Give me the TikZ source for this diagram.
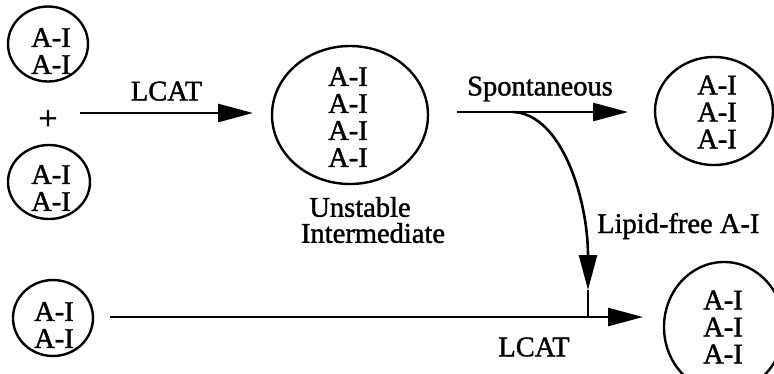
\documentclass[tikz,border=0pt]{standalone}
\usepackage{fontspec}
\setmainfont{Liberation Serif}[FakeBold=1.4]
\usetikzlibrary{arrows.meta,shapes.geometric}
\begin{document}
\begin{tikzpicture}[x=1pt,y=-1pt,
  particle/.style={draw, ellipse, line width=2.4pt, inner sep=0pt},
  lbl/.style={font=\fontsize{28.5}{27}\selectfont, align=center, inner sep=0pt},
  flow/.style={line width=2.6pt, -{Triangle[length=35pt,width=18pt]}},
  plain/.style={line width=2.6pt},
]
\useasboundingbox (0,0) rectangle (774,373);
\clip (0,0) rectangle (774,373);

% particles (outlines)
\node[particle, minimum width=80, minimum height=75] (p1) at (48,44) {};
\node[particle, minimum width=82, minimum height=74] (p2) at (49,182) {};
\node[particle, minimum width=80, minimum height=76] (p3) at (53,318) {};
\node[particle, minimum width=156, minimum height=138] (mid) at (350,115) {};
\node[particle, minimum width=118, minimum height=108] (right1) at (714,111) {};
\node[particle, minimum width=120, minimum height=130] (right2) at (724,327) {};

% particle contents
\node[lbl] (t1) at (51,51) {A-I\\A-I};
\node[lbl] (t2) at (51,188) {A-I\\A-I};
\node[lbl] (t3) at (54,325) {A-I\\A-I};
\node[lbl] (tmid) at (348,117) {A-I\\A-I\\A-I\\A-I};
\node[lbl] (tr1) at (717,112) {A-I\\A-I\\A-I};
\node[lbl] (tr2) at (723,327) {A-I\\A-I\\A-I};

\node[lbl, font=\fontsize{34}{34}\selectfont] (plus) at (48,120) {+};
\node[lbl] (unst) at (360,207) {Unstable};
\node[lbl] (inter) at (373,233) {Intermediate};

% connector end points
\coordinate (a1s) at (80,113);
\coordinate (a1e) at (253,113);
\coordinate (a2s) at (457,112);
\coordinate (a2e) at (628,112);
\coordinate (br) at (513,112);
\coordinate (brtip) at (588,290);
\coordinate (a3s) at (110,317);
\coordinate (a3e) at (643,317);
\coordinate (join) at (588,317);

% reactions
\draw[flow] (a1s) -- node[lbl, above=11pt] (lcat1) {LCAT} (a1e);
\draw[flow] (a2s) -- (a2e);
\node[lbl] (spont) at (540,89) {Spontaneous};
\draw[flow] (br) .. controls (562,114) and (588,200) .. (brtip);
\draw[plain] (brtip) -- (join);
\node[lbl, anchor=west] (free) at (597,226) {Lipid-free A-I};
\draw[flow] (a3s) -- (a3e);
\node[lbl] (lcat2) at (534,347) {LCAT};
\end{tikzpicture}
\end{document}
